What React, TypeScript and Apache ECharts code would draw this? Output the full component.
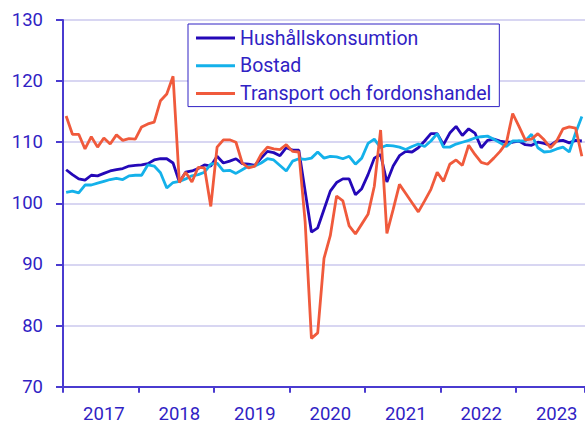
import React, { useEffect, useRef } from "react";
import * as echarts from "echarts";

const years = ["2017", "2018", "2019", "2020", "2021", "2022", "2023"];
const monthCount = 83; // 2017-01 .. 2023-11
const categories: string[] = [];
for (let i = 0; i < monthCount; i++) {
  const y = years[Math.floor(i / 12)];
  const m = (i % 12) + 1;
  categories.push(`${y}-${m < 10 ? "0" + m : m}`);
}

const seriesNames = ["Hushållskonsumtion", "Bostad", "Transport och fordonshandel"];

const hushall = [
  105.5, 104.7, 104.0, 103.8, 104.6, 104.5, 104.9, 105.3, 105.5, 105.7, 106.1, 106.2,
  106.3, 106.5, 107.1, 107.3, 107.3, 106.6, 103.5, 105.1, 105.3, 105.7, 106.3, 106.1,
  107.7, 106.6, 106.9, 107.3, 106.5, 106.4, 106.2, 107.4, 108.5, 108.3, 107.8, 109.1,
  108.7, 108.7, 102.0, 95.3, 96.0, 99.0, 102.0, 103.4, 104.0, 104.0, 101.4, 102.4,
  104.7, 107.4, 108.0, 103.5, 106.1, 107.8, 108.5, 108.4, 109.1, 110.2, 111.4, 111.4,
  109.6, 111.5, 112.6, 111.1, 112.2, 111.5, 109.1, 110.3, 110.5, 110.2, 110.0, 110.0,
  110.2, 109.6, 109.5, 110.0, 109.8, 109.5, 110.2, 110.3, 109.9, 110.3, 110.2,
];

const bostad = [
  101.8, 102.0, 101.7, 103.0, 103.0, 103.3, 103.6, 103.9, 104.1, 103.9, 104.5, 104.6,
  104.6, 106.3, 106.1, 105.0, 102.5, 103.4, 103.6, 104.0, 104.5, 104.7, 105.1, 106.4,
  106.6, 105.3, 105.4, 104.9, 105.5, 106.1, 106.1, 106.6, 107.3, 107.1, 106.2, 105.3,
  106.9, 107.3, 107.2, 107.4, 108.4, 107.4, 107.7, 107.6, 107.3, 107.7, 106.4, 107.4,
  109.8, 110.5, 109.1, 109.5, 109.4, 109.2, 108.8, 109.3, 109.7, 109.3, 110.2, 111.4,
  109.2, 109.2, 109.7, 110.0, 110.3, 110.7, 110.9, 111.0, 110.5, 109.9, 109.3, 110.2,
  110.2, 110.2, 111.3, 109.1, 108.4, 108.5, 108.9, 109.2, 108.4, 111.5, 114.2,
];

const transport = [
  114.3, 111.3, 111.3, 108.9, 110.9, 109.2, 110.7, 109.7, 111.2, 110.3, 110.6, 110.5,
  112.5, 113.0, 113.3, 116.8, 117.9, 120.8, 103.4, 105.1, 103.5, 105.9, 105.8, 99.5,
  109.2, 110.4, 110.4, 110.0, 106.6, 105.8, 106.1, 108.0, 109.2, 108.9, 108.8, 109.6,
  108.5, 108.4, 97.0, 77.9, 78.8, 91.0, 94.7, 101.2, 100.4, 96.3, 95.0, 96.6,
  98.2, 102.8, 112.0, 95.1, 99.0, 103.1, 101.6, 100.1, 98.6, 100.4, 102.3, 105.1,
  103.6, 106.4, 107.1, 106.2, 109.5, 108.0, 106.7, 106.4, 107.4, 108.5, 109.9, 114.7,
  112.6, 110.4, 110.5, 111.4, 110.4, 109.1, 110.2, 112.2, 112.5, 112.3, 107.7,
];

const colors = ["#2408b8", "#14b1ea", "#f05a3c"];
const textColor = "#3022c4";
const axisColor = "#4a3bd0";
const gridColor = "#d8d6f2";

export default function App() {
  const ref = useRef<HTMLDivElement>(null);
  useEffect(() => {
    if (!ref.current) return;
    const chart = echarts.init(ref.current, undefined, { renderer: "svg" });
    const dataSets = [hushall, bostad, transport];
    chart.setOption({
      animation: false,
      textStyle: { fontFamily: "Roboto" },
      grid: { left: 63, top: 20, right: -2.6, bottom: 38.3, containLabel: false },
      legend: {
        left: 188,
        top: 24,
        orient: "vertical",
        backgroundColor: "#ffffff",
        borderColor: textColor,
        borderWidth: 1,
        padding: [4, 8, 3, 8],
        itemGap: 7.8,
        itemWidth: 39,
        itemHeight: 3,
        icon: "rect",
        textStyle: { color: textColor, fontSize: 19.5, fontFamily: "Roboto", lineHeight: 19.5 },
        data: seriesNames,
      },
      xAxis: {
        type: "category",
        data: categories,
        boundaryGap: true,
        axisLine: { lineStyle: { color: axisColor, width: 2 } },
        axisTick: {
          show: true,
          length: 6,
          interval: (i: number) => i % 12 === 0,
          lineStyle: { color: axisColor, width: 2 },
        },
        axisLabel: {
          interval: (i: number) => i % 12 === 6,
          formatter: (v: string) => v.slice(0, 4),
          color: textColor,
          fontSize: 18.5,
          fontFamily: "Roboto",
          margin: 18,
        },
        splitLine: { show: false },
      },
      yAxis: {
        type: "value",
        min: 70,
        max: 130,
        interval: 10,
        axisLine: { show: true, lineStyle: { color: axisColor, width: 2 } },
        axisTick: { show: true, length: 7, lineStyle: { color: axisColor, width: 2 } },
        axisLabel: { color: textColor, fontSize: 18.5, fontFamily: "Roboto", margin: 20 },
        splitLine: { show: true, lineStyle: { color: gridColor, width: 2 } },
      },
      series: seriesNames.map((name, k) => ({
        name,
        type: "line",
        data: dataSets[k],
        symbol: "none",
        color: colors[k],
        lineStyle: { color: colors[k], width: 2.8 },
      })),
    });
    return () => chart.dispose();
  }, []);
  return (
    <div
      ref={ref}
      style={{ position: "fixed", left: 0, top: 0, width: 585, height: 425, background: "#fff" }}
    />
  );
}
